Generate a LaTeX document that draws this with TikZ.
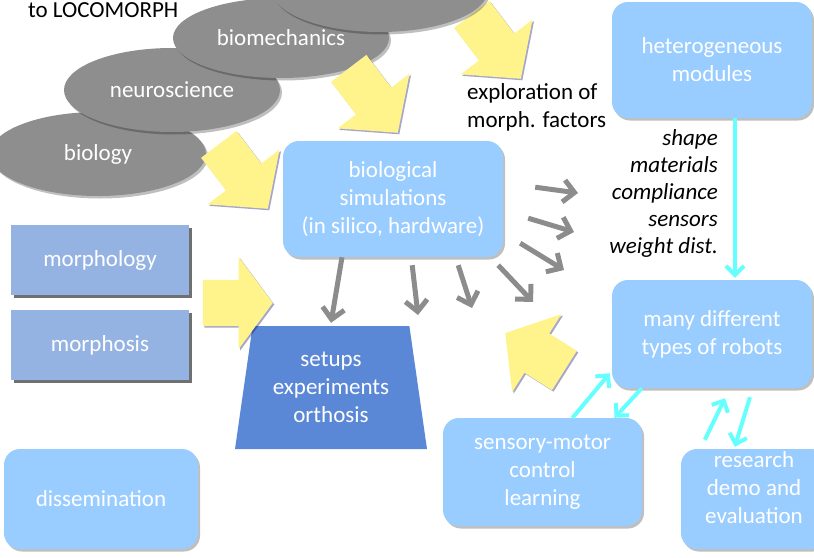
\documentclass[tikz,border=0pt]{standalone}
\usepackage{fontspec}
\setmainfont{Carlito}
\usetikzlibrary{shapes,arrows.meta,shadows}
\definecolor{boxblue}{HTML}{99CCFF}
\definecolor{morphblue}{HTML}{95B3E2}
\definecolor{setupblue}{HTML}{5B88D6}
\definecolor{ellgrey}{HTML}{8E8E8E}
\definecolor{arrgrey}{HTML}{8C8C8C}
\definecolor{padyellow}{HTML}{FFF48C}
\definecolor{linkcyan}{HTML}{66FFFF}

\begin{document}
\begin{tikzpicture}[x=1pt,y=-1pt,font=\fontsize{23}{28}\selectfont]
\tikzstyle{soft}=[drop shadow={shadow xshift=2pt,shadow yshift=-2.5pt,fill=black,opacity=0.25}]
\tikzstyle{field}=[ellipse,fill=ellgrey,text=white,minimum width=216pt,minimum height=84pt,inner sep=0pt,soft]
\tikzstyle{rbox}=[rectangle,rounded corners=16pt,fill=boxblue,text=white,align=center,inner sep=0pt,soft]
\tikzstyle{mbox}=[rectangle,fill=morphblue,text=white,minimum width=178pt,minimum height=70pt,drop shadow={shadow xshift=3pt,shadow yshift=-3pt,fill=black!70,opacity=0.8}]
\tikzstyle{yarrow}=[single arrow,fill=padyellow,inner xsep=0pt,inner ysep=22pt,minimum height=81pt,single arrow head extend=23pt,single arrow tip angle=97,anchor=tip,drop shadow={shadow xshift=1.5pt,shadow yshift=-1.5pt,fill=blue!40!black,opacity=0.35}]
\tikzstyle{garrow}=[draw=arrgrey,line width=5pt,-{Straight Barb[length=11pt,width=22pt]}]
\tikzstyle{carrow}=[draw=linkcyan,line width=4pt,-{Straight Barb[length=9pt,width=18pt]}]
\useasboundingbox (0,0) rectangle (814,557);
\clip (0,0) rectangle (814,557);

\node[anchor=base west,inner sep=0pt] (title) at (28,17) {to LOCOMORPH};
\node[field] (biology) at (98,154) {biology};
\node[field] (neuro) at (172,90) {neuroscience};
\node[field,minimum height=80pt] (biomech) at (281,38) {biomechanics};
\node[yarrow,rotate=-52.7] (ya3) at (521,79) {};
\node[field] (topfield) at (380,-10) {};
\node[yarrow,rotate=-52.7] (ya1) at (268,209) {};
\node[yarrow,rotate=-52.7] (ya2) at (398,133) {};
\node[anchor=west,align=left,inner sep=0pt] (explore) at (467,107) {exploration of\\morph. factors};

\node[rbox,minimum width=200pt,minimum height=116pt] (hetero) at (712,60) {heterogeneous\\modules};
\node[rbox,minimum width=220pt,minimum height=116pt] (sim) at (393,199) {biological\\simulations\\(in silico, hardware)};
\node[rbox,minimum width=200pt,minimum height=108pt] (robots) at (712,334) {many different\\types of robots};
\node[rbox,minimum width=199pt,minimum height=108pt] (sensory) at (542.5,472) {sensory-motor\\control\\learning};
\node[rbox,minimum width=146pt,minimum height=100pt] (research) at (754,499) {};
\node[text=white,align=center,inner sep=0pt] (researchtext) at (754,488) {research\\demo and\\evaluation};
\node[rbox,minimum width=194pt,minimum height=100pt] (dissem) at (101,499) {dissemination};
\node[anchor=east,align=right,inner sep=0pt,font=\fontsize{23}{27}\selectfont\itshape] (factors) at (718,193) {shape\\materials\\compliance\\sensors\\weight dist.};

\node[mbox] (morphology) at (100,260) {morphology};
\node[mbox] (morphosis) at (100,345) {morphosis};
\node[trapezium,trapezium angle=76,trapezium stretches body,minimum width=192pt,minimum height=123pt,fill=setupblue,text=white,align=center,inner sep=0pt] (setups) at (331,387.5) {setups\\experiments\\orthosis};
\node[yarrow,minimum height=70pt,inner ysep=23pt,single arrow tip angle=107] (ya4) at (273,303) {};
\node[yarrow,minimum height=70pt,inner ysep=23pt,single arrow tip angle=102,rotate=147.7] (ya5) at (505,333) {};

\draw[garrow] ([xshift=-51pt]sim.south) -- ([yshift=3pt]setups.north);
\foreach \dx/\dy/\ex/\ey [count=\i] in {-91/-8/418/315,-45/-8/472/308,-5/-8/533/302,17/14/564/270,25/39/574/232,32/70/578/193}{
  \coordinate (g\i) at (\ex,\ey);
  \draw[garrow] ([xshift=\dx pt,yshift=\dy pt]sim.south east) -- (g\i);
}

\draw[carrow] ([xshift=23pt]hetero.south) -- ([xshift=23pt,yshift=2pt]robots.north);
\draw[carrow] ([xshift=30pt]sensory.north) -- ([xshift=-2pt,yshift=15pt]robots.south west);
\draw[carrow] ([xshift=30pt]robots.south west) -- ([xshift=72pt]sensory.north);
\draw[carrow] ([xshift=24pt,yshift=9pt]research.north west) -- ([xshift=13pt,yshift=-10pt]robots.south);
\draw[carrow] ([xshift=38pt,yshift=-9pt]robots.south) -- ([xshift=54pt,yshift=2pt]research.north west);
\end{tikzpicture}
\end{document}
